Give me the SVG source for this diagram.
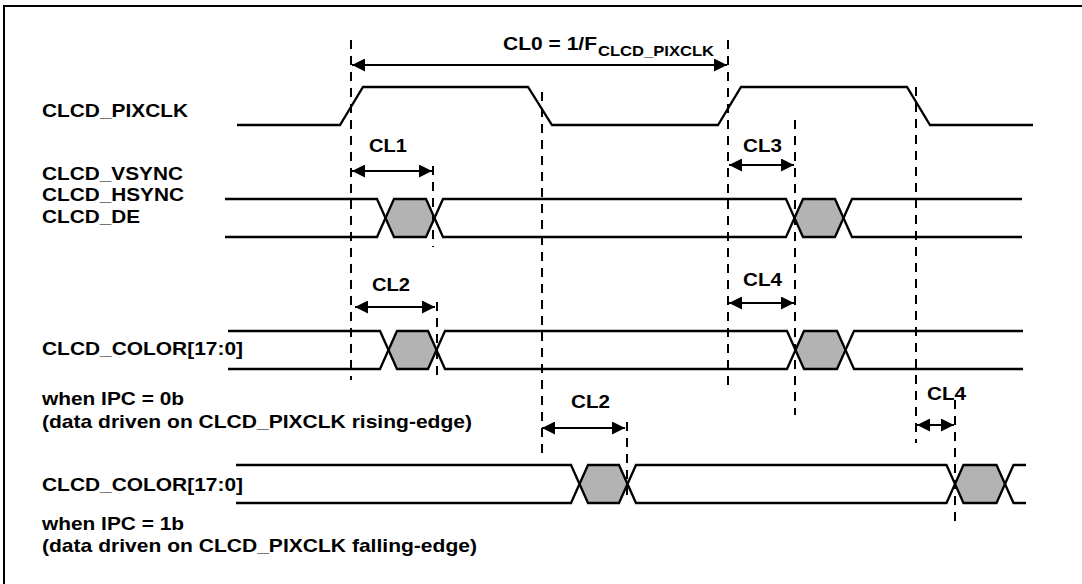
<svg xmlns="http://www.w3.org/2000/svg" width="1082" height="584" viewBox="0 0 1082 584">
<style>
.t{font-family:"Liberation Sans",Arial,sans-serif;font-weight:bold;font-size:19px;fill:#000}
.s{font-family:"Liberation Sans",Arial,sans-serif;font-weight:bold;font-size:15px;fill:#000}
.w{fill:none;stroke:#000;stroke-width:2.3;stroke-linejoin:miter}
.d{stroke:#000;stroke-width:2;stroke-dasharray:9 7;fill:none}
.a{stroke:#000;stroke-width:2;fill:none;marker-start:url(#ah);marker-end:url(#ah)}
.h{fill:#b3b3b3;stroke:none}
</style>
<defs>
<marker id="ah" viewBox="0 0 13 13" refX="13" refY="6.5" markerWidth="13" markerHeight="13" markerUnits="userSpaceOnUse" orient="auto-start-reverse">
<path d="M0,0 L13,6.5 L0,13 z" fill="#000"/>
</marker>
</defs>
<rect x="0" y="0" width="1082" height="584" fill="#fff"/>
<rect id="frame" x="4" y="6" width="1100" height="600" fill="none" stroke="#000" stroke-width="2"/>

<g id="labels">
<text class="t" x="42" y="117" textLength="146" lengthAdjust="spacingAndGlyphs">CLCD_PIXCLK</text>
<text class="t" x="42" y="180" textLength="141" lengthAdjust="spacingAndGlyphs">CLCD_VSYNC</text>
<text class="t" x="42" y="201" textLength="142" lengthAdjust="spacingAndGlyphs">CLCD_HSYNC</text>
<text class="t" x="42" y="223" textLength="98" lengthAdjust="spacingAndGlyphs">CLCD_DE</text>
<text class="t" x="42" y="355" textLength="201" lengthAdjust="spacingAndGlyphs">CLCD_COLOR[17:0]</text>
<text class="t" x="42" y="405" textLength="142" lengthAdjust="spacingAndGlyphs">when IPC = 0b</text>
<text class="t" x="42" y="428" textLength="430" lengthAdjust="spacingAndGlyphs">(data driven on CLCD_PIXCLK rising-edge)</text>
<text class="t" x="42" y="491" textLength="201" lengthAdjust="spacingAndGlyphs">CLCD_COLOR[17:0]</text>
<text class="t" x="42" y="530" textLength="142" lengthAdjust="spacingAndGlyphs">when IPC = 1b</text>
<text class="t" x="42" y="552" textLength="435" lengthAdjust="spacingAndGlyphs">(data driven on CLCD_PIXCLK falling-edge)</text>
</g>

<g id="pixclk">
<polyline class="w" points="237,125 340,125 363,87 528,87 552,125 718,125 741,87 907,87 930,125 1033,125"/>
</g>

<g id="sync">
<polygon class="h" points="385.5,218 394,199 426,199 434.5,218 426,237 394,237"/>
<polygon class="h" points="794.5,218 803,199 835,199 843.5,218 835,237 803,237"/>
<polyline class="w" points="225,199 377,199 394,237 426,237 443,199 786,199 803,237 835,237 852,199 1022,199"/>
<polyline class="w" points="225,237 377,237 394,199 426,199 443,237 786,237 803,199 835,199 852,237 1022,237"/>
</g>

<g id="color0">
<polygon class="h" points="388.5,350 397,331 428,331 436.5,350 428,369 397,369"/>
<polygon class="h" points="795.5,350 804,331 837,331 845.5,350 837,369 804,369"/>
<polyline class="w" points="228,331 380,331 397,369 428,369 445,331 787,331 804,369 837,369 854,331 1023,331"/>
<polyline class="w" points="228,369 380,369 397,331 428,331 445,369 787,369 804,331 837,331 854,369 1023,369"/>
</g>

<g id="color1">
<polygon class="h" points="579.5,484 588,465 619,465 627.5,484 619,503 588,503"/>
<polygon class="h" points="955,484 963.5,465 996.5,465 1005,484 996.5,503 963.5,503"/>
<polyline class="w" points="236,465 571,465 588,503 619,503 636,465 946.5,465 963.5,503 996.5,503 1013.5,465 1026,465"/>
<polyline class="w" points="236,503 571,503 588,465 619,465 636,503 946.5,503 963.5,465 996.5,465 1013.5,503 1026,503"/>
</g>

<g id="connectors">
<line class="d" x1="351" y1="40" x2="351" y2="380"/>
<line class="d" x1="542" y1="92" x2="542" y2="460"/>
<line class="d" x1="728" y1="40" x2="728" y2="390"/>
<line class="d" x1="916" y1="87" x2="916" y2="443"/>
<line class="d" x1="433" y1="166" x2="433" y2="247"/>
<line class="d" x1="795" y1="120" x2="795" y2="415"/>
<line class="d" x1="437" y1="302" x2="437" y2="378"/>
<line class="d" x1="627" y1="422" x2="627" y2="500"/>
<line class="d" x1="955" y1="400" x2="955" y2="528"/>

<line class="a" x1="352" y1="65" x2="727" y2="65"/>
<line class="a" x1="352" y1="171" x2="432" y2="171"/>
<line class="a" x1="729" y1="165" x2="794" y2="165"/>
<line class="a" x1="355" y1="307" x2="435" y2="307"/>
<line class="a" x1="729" y1="303" x2="794" y2="303"/>
<line class="a" x1="542" y1="428" x2="625" y2="428"/>
<line class="a" x1="917" y1="425" x2="954" y2="425"/>
</g>

<g id="timing-labels">
<text class="t" x="503" y="50" textLength="94" lengthAdjust="spacingAndGlyphs">CL0 = 1/F</text>
<text class="s" x="598" y="56" textLength="116" lengthAdjust="spacingAndGlyphs">CLCD_PIXCLK</text>
<text class="t" x="369" y="152" textLength="38" lengthAdjust="spacingAndGlyphs">CL1</text>
<text class="t" x="743" y="152" textLength="39" lengthAdjust="spacingAndGlyphs">CL3</text>
<text class="t" x="372" y="291" textLength="38" lengthAdjust="spacingAndGlyphs">CL2</text>
<text class="t" x="743" y="286" textLength="39" lengthAdjust="spacingAndGlyphs">CL4</text>
<text class="t" x="571" y="408" textLength="39" lengthAdjust="spacingAndGlyphs">CL2</text>
<text class="t" x="927" y="400" textLength="39" lengthAdjust="spacingAndGlyphs">CL4</text>
</g>
</svg>
